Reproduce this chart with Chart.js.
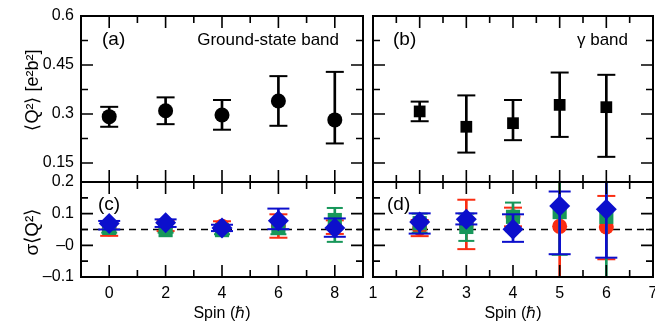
<!DOCTYPE html>
<html>
<head>
<meta charset="utf-8">
<script src="https://cdn.jsdelivr.net/npm/chart.js@4"></script>
<style>
  html, body { margin: 0; padding: 0; background: #fff; }
  #wrap { position: relative; width: 655px; height: 328px; overflow: hidden; }
  canvas { position: absolute; left: 0; top: 0; }
</style>
</head>
<body>
<div id="wrap">
  <canvas id="cA" width="655" height="328"></canvas>
  <canvas id="cB" width="655" height="328"></canvas>
  <canvas id="cC" width="655" height="328"></canvas>
  <canvas id="cD" width="655" height="328"></canvas>
</div>
<script>
// ---- data ----
const spinGround = [0, 2, 4, 6, 8];
const spinGamma = [2, 3, 4, 5, 6];

// <Q2> panels (a) and (b)
const q2Ground   = [0.292, 0.310, 0.297, 0.340, 0.282];
const q2GroundLo = [0.261, 0.269, 0.252, 0.264, 0.210];
const q2GroundHi = [0.322, 0.351, 0.343, 0.416, 0.429];

const q2Gamma   = [0.308, 0.261, 0.272, 0.328, 0.321];
const q2GammaLo = [0.278, 0.182, 0.220, 0.230, 0.169];
const q2GammaHi = [0.338, 0.357, 0.343, 0.427, 0.420];

// sigma<Q2> panel (c), ground-state band
const redC     = [0.052, 0.060, 0.060, 0.061, 0.058];
const redCLo   = [0.030, 0.045, 0.045, 0.024, 0.036];
const redCHi   = [0.072, 0.078, 0.076, 0.098, 0.079];
const greenC   = [0.055, 0.048, 0.048, 0.056, 0.080];
const greenCLo = [0.040, 0.040, 0.035, 0.035, 0.011];
const greenCHi = [0.070, 0.058, 0.063, 0.077, 0.118];
const blueC    = [0.069, 0.071, 0.055, 0.078, 0.055];
const blueCLo  = [0.050, 0.058, 0.045, 0.051, 0.027];
const blueCHi  = [0.077, 0.082, 0.065, 0.116, 0.085];

// sigma<Q2> panel (d), gamma band
const redD     = [0.053, 0.065, 0.090, 0.060, 0.058];
const redDLo   = [0.029, -0.012, 0.060, -0.150, -0.044];
const redDHi   = [0.080, 0.144, 0.119, 0.220, 0.156];
const greenD   = [0.070, 0.058, 0.090, 0.105, 0.090];
const greenDLo = [0.040, 0.014, 0.045, -0.030, -0.150];
const greenDHi = [0.100, 0.100, 0.135, 0.260, 0.270];
const blueD    = [0.074, 0.082, 0.051, 0.124, 0.114];
const blueDLo  = [0.037, 0.066, 0.011, -0.028, -0.039];
const blueDHi  = [0.101, 0.101, 0.098, 0.170, 0.270];

const refLevel = 0.05;

// ---- axes ----
const xTicksGround = [0, 2, 4, 6, 8];
const xMinorGround = [1, 3, 5, 7];
const xTicksGamma = [1, 2, 3, 4, 5, 6, 7];
const xMinorGamma = [1.5, 2.5, 3.5, 4.5, 5.5, 6.5];
const yTicksTop = [0.15, 0.3, 0.45, 0.6];
const yLabelsTop = ['0.15', '0.3', '0.45', '0.6'];
const yMinorTop = [0.225, 0.375, 0.525];
const yTicksBot = [-0.1, 0, 0.1, 0.2];
const yLabelsBot = ['\u20130.1', '\u20130', '0.1', '0.2'];
const yMinorBot = [-0.05, 0.05, 0.15];

Chart.defaults.font.family = '"Liberation Sans", Arial, sans-serif';
Chart.defaults.font.size = 16;
Chart.defaults.color = '#000';

const RED = '#fa2d12', GREEN = '#17975a', BLUE = '#0c0fcc';

// inward ticks on all four sides + frame
function frameTicks(xMajor, xMinor, yMajor, yMinor) {
  return {
    id: 'frameTicks',
    afterDraw(chart) {
      const {ctx, chartArea: a} = chart;
      const x = chart.scales.x, y = chart.scales.y;
      ctx.save();
      ctx.strokeStyle = '#000';
      ctx.lineWidth = 1.6;
      ctx.beginPath();
      const xt = (vals, len) => vals.forEach(v => {
        const p = x.getPixelForValue(v);
        ctx.moveTo(p, a.top); ctx.lineTo(p, a.top + len);
        ctx.moveTo(p, a.bottom); ctx.lineTo(p, a.bottom - len);
      });
      const yt = (vals, len) => vals.forEach(v => {
        const p = y.getPixelForValue(v);
        ctx.moveTo(a.left, p); ctx.lineTo(a.left + len, p);
        ctx.moveTo(a.right, p); ctx.lineTo(a.right - len, p);
      });
      xt(xMajor, 12); xt(xMinor, 7);
      yt(yMajor, 12); yt(yMinor, 7);
      ctx.stroke();
      ctx.lineWidth = 2;
      ctx.strokeRect(a.left, a.top, a.right - a.left, a.bottom - a.top);
      ctx.restore();
    }
  };
}

function panelText(items) {
  return {
    id: 'panelText',
    afterDraw(chart) {
      const ctx = chart.ctx;
      items.forEach(t => {
        ctx.save();
        ctx.font = t.font;
        ctx.fillStyle = '#000';
        ctx.textAlign = t.align || 'left';
        ctx.textBaseline = 'middle';
        ctx.translate(t.x, t.y);
        if (t.rot) ctx.rotate(t.rot);
        ctx.fillText(t.text, 0, 0);
        ctx.restore();
      });
    }
  };
}

// marker + vertical bar + caps for one series
function errorSeries(xs, ys, lo, hi, color, style, radius, cap, order) {
  return [
    {
      type: 'scatter',
      data: xs.map((x, i) => ({x: x, y: ys[i]})),
      pointStyle: style, pointRadius: radius,
      pointBackgroundColor: color, pointBorderWidth: 0,
      order: order
    },
    {
      type: 'bar',
      data: xs.map((x, i) => ({x: x, y: [lo[i], hi[i]]})),
      backgroundColor: color, borderWidth: 0,
      barThickness: 2, grouped: false,
      order: order + 1
    },
    {
      type: 'scatter',
      data: xs.map((x, i) => ({x: x, y: lo[i]})).concat(xs.map((x, i) => ({x: x, y: hi[i]}))),
      pointStyle: 'line', pointRadius: cap,
      pointBorderColor: color, pointBorderWidth: 2,
      order: order + 1
    }
  ];
}

function fixedTicks(vals) {
  return s => { s.ticks = vals.map(v => ({value: v})); };
}

function makeChart(id, pad, xr, yr, datasets, plugins) {
  return new Chart(document.getElementById(id), {
    type: 'scatter',
    data: { datasets: datasets },
    options: {
      responsive: false,
      animation: false,
      events: [],
      layout: { padding: pad, autoPadding: false },
      plugins: { legend: { display: false }, tooltip: { enabled: false } },
      scales: {
        x: Object.assign({
          type: 'linear', min: xr[0], max: xr[1], offset: false,
          grid: { display: false, drawTicks: false, tickLength: 0 },
          border: { display: false }
        }, xr[2]),
        y: Object.assign({
          type: 'linear', min: yr[0], max: yr[1],
          grid: { display: false, drawTicks: false, tickLength: 0 },
          border: { display: false }
        }, yr[2])
      }
    },
    plugins: plugins
  });
}

function yAxisLabels(ticks, labels) {
  return {
    display: true,
    afterBuildTicks: fixedTicks(ticks),
    afterFit: s => { s.width = 81; s.paddingTop = 0; s.paddingBottom = 0; },
    ticks: { padding: 7, autoSkip: false, callback: (v, i) => labels[i] }
  };
}

function xAxisLabels(ticks) {
  return {
    display: true,
    afterBuildTicks: fixedTicks(ticks),
    afterFit: s => { s.height = 51; s.paddingLeft = 0; s.paddingRight = 0; },
    ticks: { padding: 7, autoSkip: false, maxRotation: 0 },
    title: { display: true, text: 'Spin (\u210F)', font: { size: 16 }, padding: { top: 0, bottom: 5 } }
  };
}

const noAxis = { display: false };
const labelFont = '19px "Liberation Sans", Arial, sans-serif';
const bandFont = '17px "Liberation Sans", Arial, sans-serif';
const titleFont = '18px "Liberation Sans", Arial, sans-serif';
const sigmaFont = '19px "Liberation Sans", Arial, sans-serif';

function refLine(x0, x1) {
  return {
    type: 'line',
    data: [{x: x0, y: refLevel}, {x: x1, y: refLevel}],
    borderColor: '#000', borderWidth: 1.6, borderDash: [7, 5],
    pointRadius: 0, order: 100
  };
}

// (a)
makeChart('cA', {left: 0, right: 292, top: 16, bottom: 146},
  [-1, 9, noAxis], [0.092, 0.6, yAxisLabels(yTicksTop, yLabelsTop)],
  errorSeries(spinGround, q2Ground, q2GroundLo, q2GroundHi, '#000', 'circle', 7.5, 9, 0),
  [frameTicks(xTicksGround, xMinorGround, yTicksTop, yMinorTop),
   panelText([
     {text: '(a)', x: 102, y: 40, font: labelFont},
     {text: 'Ground-state band', x: 339, y: 40, align: 'right', font: bandFont},
     {text: '\u27E8Q\u00B2\u27E9 [e\u00B2b\u00B2]', x: 33, y: 90, rot: -Math.PI / 2, align: 'center', font: titleFont}
   ])]);

// (b)
makeChart('cB', {left: 373, right: 2, top: 16, bottom: 146},
  [1, 7, noAxis], [0.092, 0.6, noAxis],
  errorSeries(spinGamma, q2Gamma, q2GammaLo, q2GammaHi, '#000', 'rect', 8.3, 9, 0),
  [frameTicks(xTicksGamma.slice(1, 6), xMinorGamma, yTicksTop, yMinorTop),
   panelText([
     {text: '(b)', x: 393, y: 40, font: labelFont},
     {text: '\u03B3 band', x: 628, y: 40, align: 'right', font: bandFont}
   ])]);

// (c)
makeChart('cC', {left: 0, right: 292, top: 182, bottom: 0},
  [-1, 9, xAxisLabels(xTicksGround)], [-0.1, 0.2, yAxisLabels(yTicksBot, yLabelsBot)],
  [].concat(
    errorSeries(spinGround, blueC, blueCLo, blueCHi, BLUE, 'rectRot', 10.5, 11, 0),
    errorSeries(spinGround, greenC, greenCLo, greenCHi, GREEN, 'rect', 10, 8, 10),
    errorSeries(spinGround, redC, redCLo, redCHi, RED, 'circle', 7.5, 9, 20),
    [refLine(-1, 9)]
  ),
  [frameTicks(xTicksGround, xMinorGround, yTicksBot, yMinorBot),
   panelText([
     {text: '(c)', x: 98, y: 205, font: labelFont},
     {text: '\u03C3\u27E8Q\u00B2\u27E9', x: 33, y: 232, rot: -Math.PI / 2, align: 'center', font: sigmaFont}
   ])]);

// (d)
makeChart('cD', {left: 373, right: 2, top: 182, bottom: 0},
  [1, 7, xAxisLabels(xTicksGamma)], [-0.1, 0.2, noAxis],
  [].concat(
    errorSeries(spinGamma, blueD, blueDLo, blueDHi, BLUE, 'rectRot', 10.5, 11, 0),
    errorSeries(spinGamma, greenD, greenDLo, greenDHi, GREEN, 'rect', 10, 8, 10),
    errorSeries(spinGamma, redD, redDLo, redDHi, RED, 'circle', 7.5, 9, 20),
    [refLine(1, 7)]
  ),
  [frameTicks(xTicksGamma.slice(1, 6), xMinorGamma, yTicksBot, yMinorBot),
   panelText([
     {text: '(d)', x: 387, y: 205, font: labelFont}
   ])]);
</script>
</body>
</html>
